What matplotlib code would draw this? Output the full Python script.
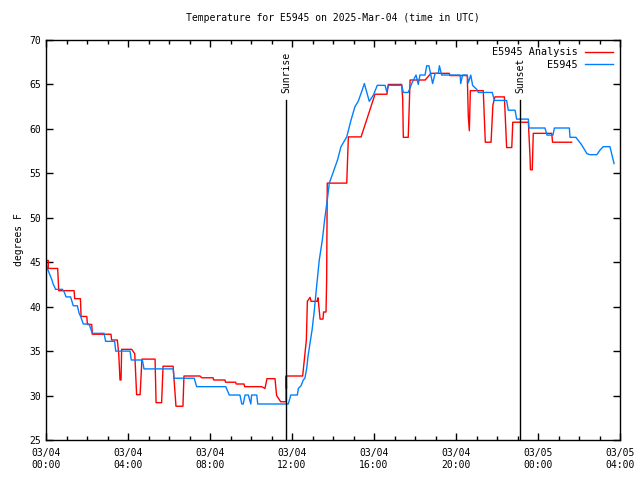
import matplotlib
matplotlib.use('Agg')
import matplotlib.pyplot as plt

# hours since 03/04 00:00 UTC, temperatures in degrees F
red_t = [0.03, 0.11, 0.11, 0.57, 0.62, 1.37, 1.40, 1.68, 1.71, 1.99, 2.02, 2.23, 2.26, 3.17, 3.20,
         3.48, 3.55, 3.61, 3.66, 3.69, 3.72, 4.18, 4.33, 4.42, 4.59, 4.68, 5.32, 5.37, 5.64, 5.71,
         6.20, 6.34, 6.68, 6.73, 7.51, 7.60, 8.15, 8.18, 8.73, 8.76, 9.25, 9.28, 9.66, 9.69, 10.52,
         10.68, 10.78, 11.17, 11.25, 11.45, 11.71, 11.71, 11.73, 11.73, 12.52, 12.70, 12.75, 12.88,
         12.93, 13.22, 13.27, 13.37, 13.51, 13.54, 13.66, 13.69, 13.72, 14.67, 14.75, 15.37, 16.05,
         16.63, 16.70, 17.35, 17.40, 17.43, 17.67, 17.76, 18.50, 18.53, 18.78, 19.67, 19.71, 20.55,
         20.60, 20.65, 20.70, 21.33, 21.43, 21.71, 21.80, 21.90, 22.36, 22.47, 22.72, 22.77, 23.53,
         23.61, 23.63, 23.72, 23.77, 24.67, 24.71, 25.64]
red_v = [45.2, 45.2, 44.3, 44.3, 41.8, 41.8, 40.9, 40.9, 38.9, 38.9, 38.0, 38.0, 36.9, 36.9, 36.25,
         36.25, 34.6, 31.75, 31.75, 35.2, 35.2, 35.2, 34.7, 30.1, 30.1, 34.1, 34.1, 29.2, 29.2, 33.3,
         33.3, 28.8, 28.8, 32.2, 32.2, 32.0, 32.0, 31.75, 31.75, 31.5, 31.5, 31.3, 31.3, 31.0, 31.0,
         30.8, 31.9, 31.9, 30.0, 29.3, 29.3, 32.2, 30.8, 32.2, 32.2, 36.25, 40.6, 41.05,
         40.6, 40.6, 41.0, 38.6, 38.6, 39.4, 39.4, 43.0, 53.9, 53.9, 59.1, 59.1, 63.9,
         63.9, 65.0, 65.0, 63.4, 59.05, 59.05, 65.5, 65.5, 65.6, 66.25, 66.25, 66.0, 66.0,
         61.4, 59.8, 64.3, 64.3, 58.5, 58.5, 62.7, 63.6, 63.6, 57.9, 57.9, 60.75, 60.75,
         56.9, 55.4, 55.4, 59.5, 59.5, 58.5, 58.5]

blue_t = [0.03, 0.10, 0.29, 0.34, 0.47, 0.80, 0.88, 0.98, 1.20, 1.33, 1.53, 1.61, 1.69, 1.82, 2.10,
          2.23, 2.26, 2.83, 2.91, 3.35, 3.40, 4.10, 4.16, 4.70, 4.78, 6.21, 6.24, 7.23, 7.35, 8.77,
          8.94, 9.46, 9.55, 9.62, 9.71, 9.87, 9.99, 10.03, 10.28, 10.33, 11.82, 11.94, 12.26, 12.31,
          12.44, 12.55, 12.63, 12.72, 12.78, 12.88, 12.98, 13.09, 13.20, 13.33, 13.48, 13.59, 13.72,
          13.82, 13.99, 14.22, 14.39, 14.67, 14.88, 15.07, 15.23, 15.40, 15.53, 15.77, 15.97, 16.16,
          16.54, 16.62, 16.70, 17.35, 17.43, 17.67, 17.84, 18.05, 18.16, 18.24, 18.49, 18.57, 18.68,
          18.86, 18.98, 19.14, 19.19, 19.30, 20.20, 20.23, 20.32, 20.55, 20.60, 20.72, 20.81, 21.01,
          21.09, 21.77, 21.87, 22.47, 22.55, 22.88, 22.96, 23.53, 23.56, 24.34, 24.44, 24.73, 24.80,
          25.53, 25.56, 25.85, 26.13, 26.39, 26.54, 26.87, 27.02, 27.18, 27.51, 27.71]
blue_v = [44.7, 44.1, 43.0, 42.6, 41.95, 41.95, 41.7, 41.1, 41.1, 40.1, 40.1, 39.3, 38.9, 38.05, 38.05,
          37.2, 37.0, 37.0, 36.1, 36.1, 35.0, 35.0, 34.0, 34.0, 33.0, 33.0, 31.95, 31.95, 31.0, 31.0,
          30.06, 30.06, 29.05, 29.05, 30.06, 30.06, 29.05, 30.06, 30.06, 29.05, 29.05, 30.06, 30.06, 30.8,
          31.1, 31.75, 31.95, 33.1, 34.4, 35.9, 37.4, 39.6, 42.25, 45.25, 47.5, 49.75, 52.0,
          53.9, 55.0, 56.5, 58.0, 59.1, 61.0, 62.5, 63.1, 64.2, 65.1, 63.1, 63.8, 64.9,
          64.9, 64.2, 64.9, 64.9, 64.1, 64.1, 65.1, 66.06, 65.0, 66.06, 66.06, 67.1, 67.1,
          65.1, 66.25, 66.25, 67.1, 66.06, 66.06, 65.1, 66.06, 66.06, 65.2, 66.06, 64.9, 64.45,
          64.1, 64.1, 63.2, 63.2, 62.1, 62.1, 61.1, 61.1, 60.1, 60.1, 59.3, 59.3, 60.1,
          60.1, 59.05, 59.05, 58.2, 57.2, 57.1, 57.1, 57.6, 58.0, 58.0, 56.1]

sunrise = 11.71
sunset = 23.12
major_ticks = [0, 4, 8, 12, 16, 20, 24, 28]
tick_labels = ['03/04\n00:00', '03/04\n04:00', '03/04\n08:00', '03/04\n12:00',
               '03/04\n16:00', '03/04\n20:00', '03/05\n00:00', '03/05\n04:00']

plt.rcParams['font.family'] = 'DejaVu Sans Mono'
plt.rcParams['font.size'] = 7

fig = plt.figure(figsize=(6.4, 4.8), dpi=100)
ax = fig.add_axes([46/640, 40/480, 574/640, 400/480])

ax.plot(red_t, red_v, color='#ff0000', lw=1, label='E5945 Analysis')
ax.plot(blue_t, blue_v, color='#0080ff', lw=1, label='E5945')

# sunrise / sunset markers
for t, name in [(sunrise, 'Sunrise'), (sunset, 'Sunset')]:
    ax.plot([t, t], [25, 63.3], color='black', lw=1)
    ax.text(t, 64.0, name, rotation=90, ha='center', va='bottom', fontsize=7)

ax.set_xlim(0, 28)
ax.set_ylim(25, 70)
ax.set_xticks(major_ticks)
ax.set_xticklabels(tick_labels)
ax.set_xticks(range(0, 29), minor=True)
ax.set_yticks(range(25, 71, 5))
ax.tick_params(direction='in', top=True, right=True, length=5, width=1)
ax.tick_params(which='minor', direction='in', top=True, length=3, width=1)
ax.tick_params(axis='x', pad=6)
for s in ax.spines.values():
    s.set_linewidth(1)

ax.set_ylabel('degrees F')
ax.set_title('Temperature for E5945 on 2025-Mar-04 (time in UTC)', fontsize=7, pad=14)
ax.legend(loc='upper right', frameon=False, markerfirst=False, handlelength=2.8,
          handletextpad=0.7, borderaxespad=0.3, labelspacing=0.25, fontsize=7.3)

fig.savefig('out.png', dpi=100)
